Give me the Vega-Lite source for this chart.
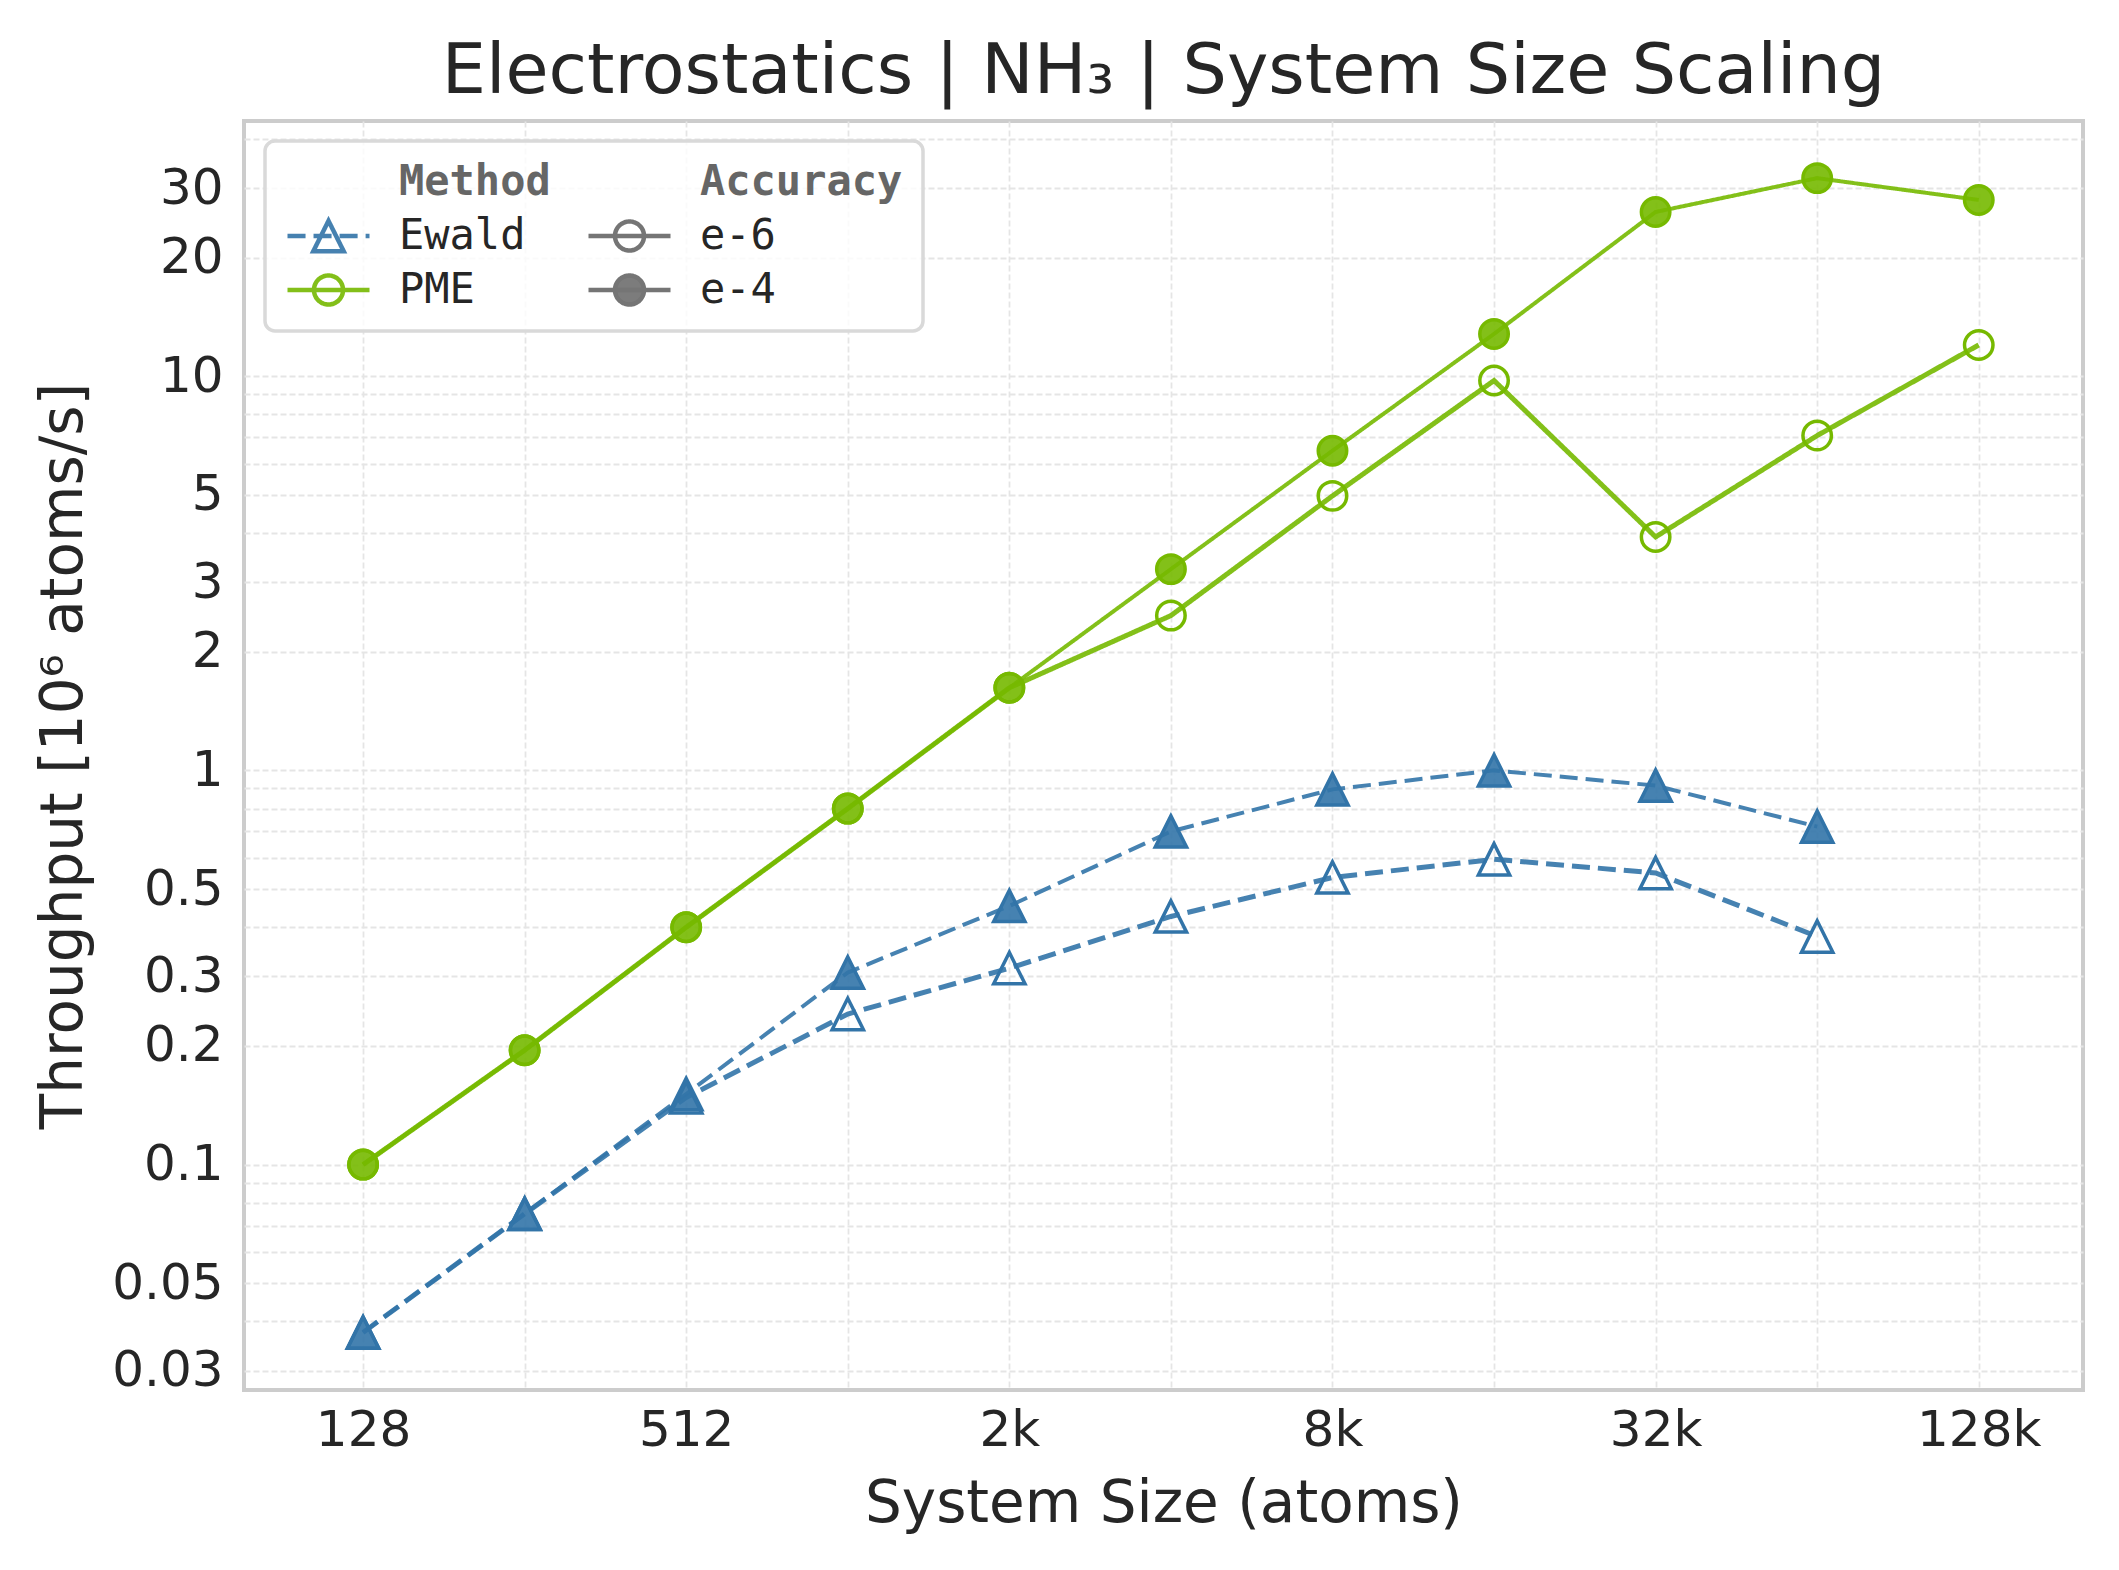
{
  "$schema": "https://vega.github.io/schema/vega-lite/v6.json",
  "width": 1839,
  "height": 1269,
  "autosize": {"type": "none"},
  "padding": {"left": 244, "top": 121, "right": 36, "bottom": 180},
  "background": "#ffffff",
  "title": {
    "text": "Electrostatics | NH₃ | System Size Scaling",
    "font": "DejaVu Sans",
    "fontSize": 70,
    "fontWeight": "normal",
    "color": "#262626",
    "anchor": "middle",
    "frame": "group",
    "offset": 6
  },
  "config": {
    "view": {"stroke": "#cccccc", "strokeWidth": 4, "fill": "#ffffff"},
    "axis": {
      "domain": false,
      "ticks": false,
      "grid": true,
      "gridColor": "#e5e5e5",
      "gridDash": [6, 3],
      "gridWidth": 1.8,
      "labelFont": "DejaVu Sans",
      "labelFontSize": 50,
      "labelColor": "#262626",
      "labelOverlap": false,
      "labelFlush": false,
      "titleFont": "DejaVu Sans",
      "titleFontSize": 58,
      "titleFontWeight": "normal",
      "titleColor": "#262626"
    }
  },
  "data": {
    "values": [
      {"atoms": 128, "method": "PME", "accuracy": "e-4", "throughput": 0.1},
      {"atoms": 256, "method": "PME", "accuracy": "e-4", "throughput": 0.195},
      {"atoms": 512, "method": "PME", "accuracy": "e-4", "throughput": 0.4},
      {"atoms": 1024, "method": "PME", "accuracy": "e-4", "throughput": 0.8},
      {"atoms": 2048, "method": "PME", "accuracy": "e-4", "throughput": 1.62},
      {"atoms": 4096, "method": "PME", "accuracy": "e-4", "throughput": 3.24},
      {"atoms": 8192, "method": "PME", "accuracy": "e-4", "throughput": 6.47},
      {"atoms": 16384, "method": "PME", "accuracy": "e-4", "throughput": 12.8},
      {"atoms": 32768, "method": "PME", "accuracy": "e-4", "throughput": 26.1},
      {"atoms": 65536, "method": "PME", "accuracy": "e-4", "throughput": 31.8},
      {"atoms": 131072, "method": "PME", "accuracy": "e-4", "throughput": 28.0},
      {"atoms": 128, "method": "PME", "accuracy": "e-6", "throughput": 0.1},
      {"atoms": 256, "method": "PME", "accuracy": "e-6", "throughput": 0.195},
      {"atoms": 512, "method": "PME", "accuracy": "e-6", "throughput": 0.4},
      {"atoms": 1024, "method": "PME", "accuracy": "e-6", "throughput": 0.8},
      {"atoms": 2048, "method": "PME", "accuracy": "e-6", "throughput": 1.62},
      {"atoms": 4096, "method": "PME", "accuracy": "e-6", "throughput": 2.47},
      {"atoms": 8192, "method": "PME", "accuracy": "e-6", "throughput": 4.97},
      {"atoms": 16384, "method": "PME", "accuracy": "e-6", "throughput": 9.75},
      {"atoms": 32768, "method": "PME", "accuracy": "e-6", "throughput": 3.91},
      {"atoms": 65536, "method": "PME", "accuracy": "e-6", "throughput": 7.07},
      {"atoms": 131072, "method": "PME", "accuracy": "e-6", "throughput": 12.0},
      {"atoms": 128, "method": "Ewald", "accuracy": "e-4", "throughput": 0.0375},
      {"atoms": 256, "method": "Ewald", "accuracy": "e-4", "throughput": 0.075},
      {"atoms": 512, "method": "Ewald", "accuracy": "e-4", "throughput": 0.151},
      {"atoms": 1024, "method": "Ewald", "accuracy": "e-4", "throughput": 0.307},
      {"atoms": 2048, "method": "Ewald", "accuracy": "e-4", "throughput": 0.453},
      {"atoms": 4096, "method": "Ewald", "accuracy": "e-4", "throughput": 0.7},
      {"atoms": 8192, "method": "Ewald", "accuracy": "e-4", "throughput": 0.895},
      {"atoms": 16384, "method": "Ewald", "accuracy": "e-4", "throughput": 1.0},
      {"atoms": 32768, "method": "Ewald", "accuracy": "e-4", "throughput": 0.915},
      {"atoms": 65536, "method": "Ewald", "accuracy": "e-4", "throughput": 0.72},
      {"atoms": 128, "method": "Ewald", "accuracy": "e-6", "throughput": 0.0375},
      {"atoms": 256, "method": "Ewald", "accuracy": "e-6", "throughput": 0.075},
      {"atoms": 512, "method": "Ewald", "accuracy": "e-6", "throughput": 0.148},
      {"atoms": 1024, "method": "Ewald", "accuracy": "e-6", "throughput": 0.241},
      {"atoms": 2048, "method": "Ewald", "accuracy": "e-6", "throughput": 0.315},
      {"atoms": 4096, "method": "Ewald", "accuracy": "e-6", "throughput": 0.426},
      {"atoms": 8192, "method": "Ewald", "accuracy": "e-6", "throughput": 0.535},
      {"atoms": 16384, "method": "Ewald", "accuracy": "e-6", "throughput": 0.595},
      {"atoms": 32768, "method": "Ewald", "accuracy": "e-6", "throughput": 0.549},
      {"atoms": 65536, "method": "Ewald", "accuracy": "e-6", "throughput": 0.379}
    ]
  },
  "encoding": {
    "x": {
      "field": "atoms",
      "type": "quantitative",
      "scale": {"type": "log", "base": 2, "domain": [76.8, 205000], "nice": false},
      "axis": {
        "title": "System Size (atoms)",
        "values": [128, 256, 512, 1024, 2048, 4096, 8192, 16384, 32768, 65536, 131072],
        "labelExpr": "datum.value == 128 ? '128' : datum.value == 512 ? '512' : datum.value == 2048 ? '2k' : datum.value == 8192 ? '8k' : datum.value == 32768 ? '32k' : datum.value == 131072 ? '128k' : ''",
        "labelPadding": 15,
        "titlePadding": 20
      }
    },
    "y": {
      "field": "throughput",
      "type": "quantitative",
      "scale": {"type": "log", "domain": [0.0268, 44.4], "nice": false},
      "axis": {
        "title": "Throughput [10⁶ atoms/s]",
        "values": [0.03, 0.04, 0.05, 0.06, 0.07, 0.08, 0.09, 0.1, 0.2, 0.3, 0.4, 0.5, 0.6, 0.7, 0.8, 0.9, 1, 2, 3, 4, 5, 6, 7, 8, 9, 10, 20, 30, 40],
        "labelExpr": "indexof([0.03, 0.05, 0.1, 0.2, 0.3, 0.5, 1, 2, 3, 5, 10, 20, 30], datum.value) >= 0 ? format(datum.value, '~g') : ''",
        "labelPadding": 21,
        "titlePadding": 18
      }
    }
  },
  "layer": [
    {
      "mark": {"type": "line"},
      "encoding": {
        "stroke": {
          "field": "method",
          "type": "nominal",
          "scale": {"domain": ["Ewald", "PME"], "range": ["#3274a8", "#76b900"]},
          "legend": null
        },
        "detail": {"field": "accuracy"},
        "strokeDash": {
          "condition": {"test": "datum.method === 'Ewald'", "value": [18, 8]},
          "value": [1, 0]
        },
        "strokeWidth": {
          "condition": {"test": "datum.accuracy === 'e-6'", "value": 5},
          "value": 4
        },
        "opacity": {
          "field": "method",
          "type": "ordinal",
          "scale": {
            "type": "ordinal",
            "domain": ["Method", "Ewald", "PME", "Accuracy", "e-6", "e-4"],
            "range": [0.9, 0.9, 0.9, 0.9, 0.9, 0.9]
          },
          "legend": {
            "orient": "none",
            "legendX": 21,
            "legendY": 20,
            "title": null,
            "columns": 2,
            "direction": "vertical",
            "columnPadding": 35,
            "rowPadding": 12,
            "padding": 20,
            "clipHeight": 42,
            "symbolSize": 6724,
            "symbolStrokeWidth": 4.5,
            "labelOffset": 27,
            "labelFont": "DejaVu Sans Mono",
            "labelFontSize": 42,
            "labelColor": "#262626",
            "labelLimit": 400,
            "fillColor": "rgba(255,255,255,0.8)",
            "strokeColor": "#d9d9d9",
            "cornerRadius": 10,
            "encoding": {
              "legend": {"strokeWidth": {"value": 3.5}},
              "symbols": {
                "shape": {
                  "condition": [
                    {"test": "datum.value === 'Ewald'", "value": "M-1,0H-0.56M-0.365,0H0.075M0.27,0H0.71M0.905,0H1M0,-0.37L-0.37,0.37L0.37,0.37Z"},
                    {"test": "datum.value === 'Method' || datum.value === 'Accuracy'", "value": "M0,0"}
                  ],
                  "value": "M-1,0H1M0.354,0A0.354,0.354 0 1,1 -0.354,0A0.354,0.354 0 1,1 0.354,0Z"
                },
                "stroke": {
                  "condition": [
                    {"test": "datum.value === 'Ewald'", "value": "#3274a8"},
                    {"test": "datum.value === 'PME'", "value": "#76b900"}
                  ],
                  "value": "#666666"
                },
                "fill": {
                  "condition": {"test": "datum.value === 'e-4'", "value": "#666666"},
                  "value": "transparent"
                },
                "fillOpacity": {"value": 0.95},
                "strokeDash": {"value": [1, 0]},
                "strokeWidth": {"value": 4.5},
                "size": {"value": 6724}
              },
              "labels": {
                "fontWeight": {
                  "condition": {"test": "datum.value === 'Method' || datum.value === 'Accuracy'", "value": "bold"},
                  "value": "normal"
                },
                "fill": {
                  "condition": {"test": "datum.value === 'Method' || datum.value === 'Accuracy'", "value": "#666666"},
                  "value": "#262626"
                }
              }
            }
          }
        }
      }
    },
    {
      "mark": {"type": "point", "filled": true, "opacity": 1, "strokeWidth": 3.5, "strokeOpacity": 1},
      "encoding": {
        "shape": {
          "condition": {"test": "datum.method === 'Ewald'", "value": "M0,-1L-1,1L1,1Z"},
          "value": "circle"
        },
        "stroke": {
          "field": "method",
          "type": "nominal",
          "scale": {"domain": ["Ewald", "PME"], "range": ["#3274a8", "#76b900"]},
          "legend": null
        },
        "fill": {
          "field": "method",
          "type": "nominal",
          "scale": {"domain": ["Ewald", "PME"], "range": ["#3274a8", "#76b900"]},
          "legend": null
        },
        "fillOpacity": {
          "condition": {"test": "datum.accuracy === 'e-4'", "value": 0.9},
          "value": 0
        },
        "size": {
          "condition": {"test": "datum.method === 'Ewald'", "value": 980},
          "value": 810
        }
      }
    }
  ]
}
